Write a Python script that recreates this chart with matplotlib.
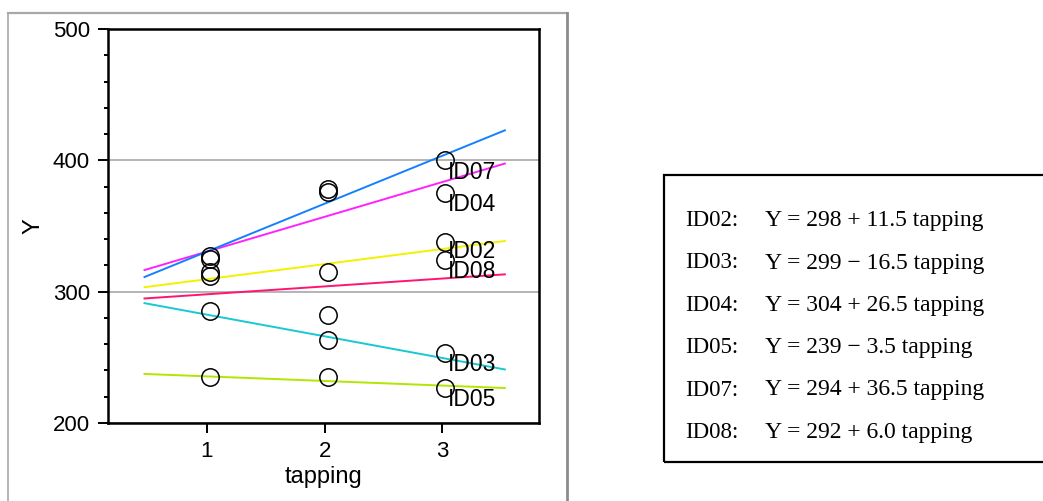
import numpy as np
import matplotlib
matplotlib.use("Agg")
import matplotlib.pyplot as plt
import matplotlib.transforms as mtransforms
from matplotlib.lines import Line2D
from matplotlib.patches import Rectangle
from matplotlib.ticker import MultipleLocator

# per-subject observations at tapping = 1, 2, 3
ids = ["ID02", "ID03", "ID04", "ID05", "ID07", "ID08"]
tapping = [1, 2, 3]
y_id02 = [315, 315, 338]
y_id03 = [285, 263, 253]
y_id04 = [325, 376, 375]
y_id05 = [235, 235, 227]
y_id07 = [327, 378, 400]
y_id08 = [312, 282, 324]
observed = [y_id02, y_id03, y_id04, y_id05, y_id07, y_id08]

# fitted lines: Y = intercept + slope * tapping
intercepts = [298, 299, 304, 239, 294, 292]
slopes = [11.5, -16.5, 26.5, -3.5, 36.5, 6.0]
line_colors = ["#f2f200", "#18c8d2", "#ff22ff", "#b2e600", "#1580ff", "#ff1570"]
# how far each end label sits below its last circle (points)
label_drop = [11.6, 12.7, 12.5, 13.6, 13.6, 12.9]

plt.rcParams["font.family"] = ["Liberation Sans", "DejaVu Sans"]

W, H = 1043, 501
fig = plt.figure(figsize=(W / 100, H / 100), dpi=100)


def px_box(left, top, right, bottom):
    return [left / W, 1 - bottom / H, (right - left) / W, (bottom - top) / H]


ax = fig.add_axes(px_box(108, 29, 539, 423))

# fitted regression lines
x_fit = np.array([0.47, 3.53])
for b0, b1, c in zip(intercepts, slopes, line_colors):
    ax.plot(x_fit, b0 + b1 * x_fit, color=c, lw=1.4, zorder=2)

# open circles for the raw values, nudged a few pixels right
nudge = mtransforms.ScaledTranslation(3 / 100, 0, fig.dpi_scale_trans)
for name, ys, drop in zip(ids, observed, label_drop):
    ax.plot(tapping, ys, ls="none", marker="o", ms=12.5, mfc="none",
            mec="black", mew=1.1, zorder=3, transform=ax.transData + nudge)
    ax.annotate(name, xy=(tapping[-1], ys[-1]), xytext=(3.6, -drop),
                textcoords="offset points", ha="left", va="baseline",
                fontsize=16.5, color="black", zorder=4)

ax.set_xlim(0.16, 3.82)
ax.set_ylim(200, 500)
ax.set_xticks(tapping)
ax.yaxis.set_major_locator(MultipleLocator(100))
ax.yaxis.set_minor_locator(MultipleLocator(20))
ax.tick_params(axis="both", which="major", direction="out", length=7.5,
               width=1.4, labelsize=16, pad=5.5)
ax.tick_params(axis="y", which="minor", direction="out", length=3, width=1.4)
ax.yaxis.grid(True, which="major", color="#b4b4b4", lw=1.4, zorder=0)
ax.set_axisbelow(True)
for sp in ax.spines.values():
    sp.set_linewidth(1.8)
ax.set_xlabel("tapping", fontsize=17, labelpad=3)
ax.set_ylabel("Y", fontsize=17, labelpad=6)

# light outer frame around the plot panel
frame_kw = dict(transform=None, clip_on=False)
fig.add_artist(Line2D([8, 8], [H - 13, -5], color="#a8a8a8", lw=1.2, **frame_kw))
fig.add_artist(Line2D([8, 567], [H - 13, H - 13], color="#a8a8a8", lw=1.6, **frame_kw))
fig.add_artist(Line2D([567, 567], [H - 13, -5], color="#8c8c8c", lw=2.0, **frame_kw))

# equation box on the right
fig.add_artist(Rectangle((664 / W, 1 - 462 / H), 400 / W, 287 / H,
                         transform=fig.transFigure, fill=False,
                         edgecolor="black", lw=1.6, clip_on=False))
row_baselines = [226, 268.5, 311, 353, 395.5, 438]
for name, b0, b1, yb in zip(ids, intercepts, slopes, row_baselines):
    sign = "+" if b1 >= 0 else "\u2212"
    eq = f"Y = {b0} {sign} {abs(b1):.1f} tapping"
    fig.text(685 / W, 1 - yb / H, f"{name}:", fontsize=16.5,
             family="Liberation Serif", ha="left", va="baseline")
    fig.text(765 / W, 1 - yb / H, eq, fontsize=17,
             family="Liberation Serif", ha="left", va="baseline")

fig.savefig("out.png", dpi=100)
